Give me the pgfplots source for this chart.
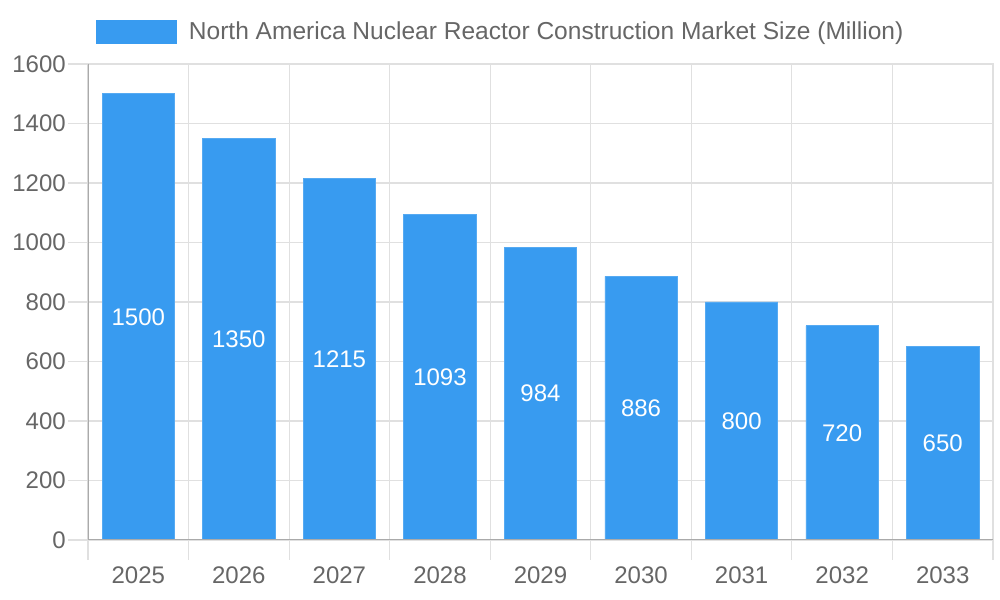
\documentclass[border=0pt]{standalone}
\usepackage{pgfplots}
\pgfplotsset{compat=1.18}
\usepackage{fontspec}
\setmainfont{Liberation Sans}
\definecolor{barblue}{RGB}{56,155,240}
\definecolor{txtgray}{RGB}{102,102,102}
\definecolor{gridgray}{RGB}{224,224,224}
\definecolor{axgray}{RGB}{170,170,170}
\begin{document}
\begin{tikzpicture}
\path[use as bounding box] (0,0) rectangle (750pt,450pt);
\begin{axis}[
  at={(66pt,45pt)}, anchor=south west,
  scale only axis, width=678.75pt, height=357pt,
  xmin=-0.5, xmax=8.5, ymin=0, ymax=1600,
  xtick={0,...,8},
  xticklabels={2025,2026,2027,2028,2029,2030,2031,2032,2033},
  minor xtick={-0.5,0.5,...,8.5},
  ytick={0,200,...,1600},
  tick align=outside, tick pos=left,
  major tick length=15pt, minor tick length=15pt,
  major x tick style={draw=none},
  minor x tick style={draw=gridgray, line width=0.8pt},
  y tick style={draw=gridgray, line width=0.8pt},
  xminorgrids, ymajorgrids,
  minor grid style={draw=gridgray, line width=0.8pt},
  major grid style={draw=gridgray, line width=0.8pt},
  axis line style={draw=gridgray, line width=0.8pt},
  ticklabel style={font=\fontsize{18}{21}\selectfont, text=txtgray},
  yticklabel style={inner sep=1.5pt},
  xticklabel style={yshift=-1.5pt},
  /pgf/number format/assume math mode=true,
  /pgf/number format/1000 sep={},
  legend style={at={(0.4565,1.0683)}, anchor=center, draw=none, fill=none,
    font=\fontsize{18.4}{21}\selectfont, text=txtgray, inner sep=0pt,
    /tikz/every odd column/.append style={column sep=0pt}},
  legend image code/.code={\fill[barblue] (0pt,-8.6pt) rectangle (60pt,8.6pt);},
  legend cell align=left,
]
\addplot[ybar, bar width=0.72, fill=barblue, draw=barblue!85!white, line width=0.5pt,
  nodes near coords={\pgfmathprintnumber{\pgfplotspointmeta}},
  visualization depends on={y/2 \as \half},
  every node near coord/.append style={anchor=center, text=white,
    font=\fontsize{18}{21}\selectfont,
    shift={(axis direction cs:0,-\half)}},
] coordinates {(0,1500) (1,1350) (2,1215) (3,1093) (4,984) (5,886) (6,800) (7,720) (8,650)};
\addlegendentry{\hspace{7pt}North America Nuclear Reactor Construction Market Size (Million)}
\draw[axgray, line width=0.9pt] (axis cs:-0.5,1600) -- (axis cs:-0.5,0) -- ++(0pt,-15pt);
\draw[axgray, line width=0.9pt] (axis cs:-0.5,0) -- (axis cs:8.5,0);
\end{axis}
\end{tikzpicture}
\end{document}
